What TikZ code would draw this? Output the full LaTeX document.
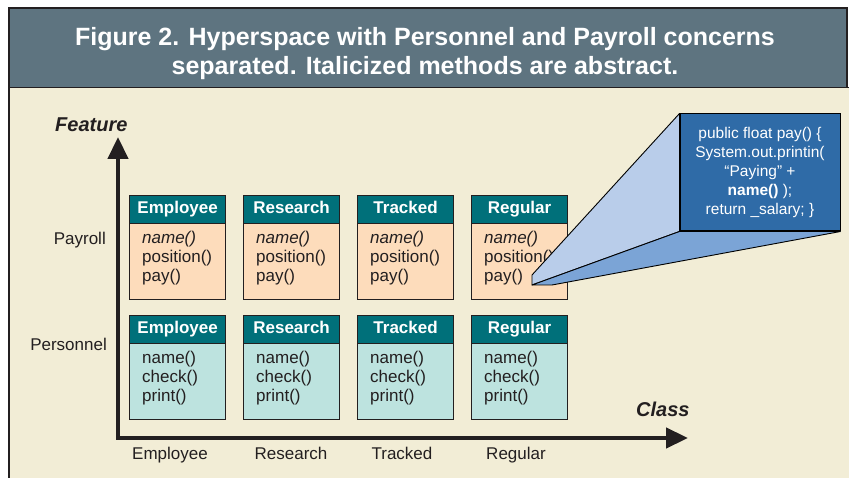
\documentclass[tikz,border=0pt]{standalone}
\usepackage{fontspec}
\setmainfont{Liberation Sans}
\usetikzlibrary{arrows.meta}

\definecolor{bandcol}{HTML}{5E7480}
\definecolor{creamcol}{HTML}{F2EDD6}
\definecolor{tealcol}{HTML}{00707A}
\definecolor{peachcol}{HTML}{FDDCBB}
\definecolor{mintcol}{HTML}{BDE3DF}
\definecolor{codecol}{HTML}{2F6BA7}
\definecolor{facelight}{HTML}{B9CDEA}
\definecolor{facedark}{HTML}{7BA4D6}
\definecolor{inkcol}{HTML}{231F20}

\tikzset{
  titletext/.style={anchor=base, inner sep=0pt, text=white,
    font=\fontsize{25}{28}\selectfont\bfseries},
  clshead/.style={draw=inkcol, line width=1.2pt, fill=tealcol,
    minimum width=96pt, minimum height=28pt, inner sep=0pt,
    text height=12pt, text depth=3.5pt, anchor=north west, text=white,
    font=\fontsize{17}{19}\selectfont\bfseries},
  clsbody/.style={draw=inkcol, line width=1.2pt, minimum width=96pt,
    minimum height=76pt, inner sep=0pt, anchor=north west},
  methods/.style={anchor=north west, inner sep=0pt, align=left,
    text=inkcol, font=\fontsize{17}{19}\selectfont},
  lbl/.style={inner sep=0pt, text=inkcol, font=\fontsize{17}{19}\selectfont},
  axislbl/.style={anchor=base west, inner sep=0pt, text=inkcol,
    font=\fontsize{20}{22}\selectfont\bfseries\itshape},
  axisline/.style={draw=inkcol, line width=4.5pt,
    {Triangle[width=20pt,length=22pt]}-{Triangle[width=20pt,length=22pt]}},
  codebox/.style={draw=black, line width=1pt, fill=codecol,
    minimum width=160pt, minimum height=117pt, inner sep=0pt,
    align=center, text=white, font=\fontsize{15.5}{19}\selectfont},
  face/.style={draw=black, line width=0.9pt, line join=round},
}

\begin{document}
\begin{tikzpicture}[x=1pt,y=-1pt]
\useasboundingbox (0,0) rectangle (849,478);

% page, title band and frame
\fill[white] (0,0) rectangle (849,478);
\fill[creamcol] (9,88) rectangle (849,478);
\fill[bandcol] (9,8) rectangle (847,88);
\draw[inkcol, line width=1.2pt] (9,478) -- (9,8) -- (847,8) -- (847,88);
\draw[inkcol, line width=1pt] (9,88) -- (849,88);

\node[titletext] (title1) at (425,46)
  {Figure 2. Hyperspace with Personnel and Payroll concerns};
\node[titletext] (title2) at (425,75)
  {separated. Italicized methods are abstract.};

% axes
\coordinate (origin) at (118,438);
\coordinate (ftip) at (118,137);
\coordinate (ctip) at (688,438);
\draw[axisline] (ftip) -- (origin) -- (ctip);
\node[axislbl] (feature) at (55,132) {Feature};
\node[axislbl] (class) at (636,416) {Class};

% concern labels
\node[lbl, anchor=base east] (payroll) at (106,245) {Payroll};
\node[lbl, anchor=base east] (personnel) at (107,351) {Personnel};

% class labels along the horizontal axis
\node[lbl, anchor=base] (xemp) at (170,459) {Employee};
\node[lbl, anchor=base] (xres) at (291,459) {Research};
\node[lbl, anchor=base] (xtrk) at (402,459) {Tracked};
\node[lbl, anchor=base] (xreg) at (516,459) {Regular};

% class fragments: Payroll row and Personnel row
\foreach \x/\nm/\id in {129/Employee/emp, 243/Research/res,
                        357/Tracked/trk, 471/Regular/reg} {
  \node[clshead] (pay-\id-h) at (\x,195) {\nm};
  \node[clsbody, fill=peachcol] (pay-\id) at (\x,223) {};
  \node[methods] (pay-\id-m) at ({\x+13},230.6)
    {\textit{name()}\\position()\\pay()};
  \node[clshead] (per-\id-h) at (\x,315) {\nm};
  \node[clsbody, fill=mintcol] (per-\id) at (\x,343) {};
  \node[methods] (per-\id-m) at ({\x+13},350.6)
    {name()\\check()\\print()};
}

% zoomed view of pay()
\node[codebox] (code) at (760,172.5)
  {public float pay() \{\\System.out.printin(\\“Paying” +\\\textbf{name()} );\\return \_salary; \}};
\coordinate (nearT) at (532,275);
\coordinate (nearB) at (532,285);
\coordinate (nearR) at (552,285);
\filldraw[face, fill=facelight] (nearT) -- (code.north west) -- (code.south west) -- (nearB) -- cycle;
\filldraw[face, fill=facedark] (nearB) -- (code.south west) -- (code.south east) -- (nearR) -- cycle;
\end{tikzpicture}
\end{document}
